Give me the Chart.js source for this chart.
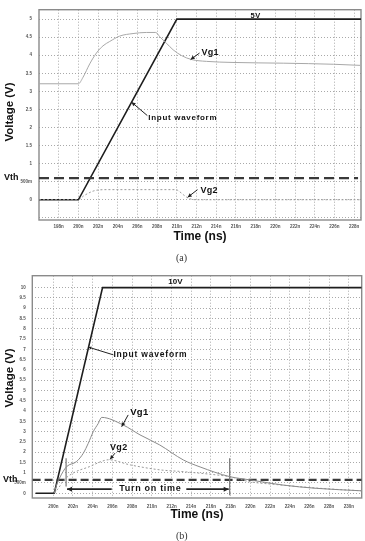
<!DOCTYPE html>
<html><head><meta charset="utf-8">
<script src="https://cdn.jsdelivr.net/npm/chart.js@4.4.0/dist/chart.umd.min.js"></script>
<style>
html,body{margin:0;padding:0;background:#fff;width:365px;height:541px;overflow:hidden;}
#wa{position:absolute;left:0;top:0;width:365px;height:262px;}
#wb{position:absolute;left:0;top:262px;width:365px;height:279px;}
.cap{position:absolute;font-family:"Liberation Serif",serif;font-size:10px;line-height:12px;color:#333;}
</style></head><body>
<div id="wa"><canvas id="ca" width="365" height="262"></canvas></div>
<div id="wb"><canvas id="cb" width="365" height="279"></canvas></div>
<div class="cap" style="left:176px;top:252px">(a)</div>
<div class="cap" style="left:176px;top:530px">(b)</div>
<script>
// ---------- Chart (a) data ----------
const xTicksA = [198,200,202,204,206,208,210,212,214,216,218,220,222,224,226,228];
const xLabelsA = ['198n','200n','202n','204n','206n','208n','210n','212n','214n','216n','218n','220n','222n','224n','226n','228n'];
const yTicksA = [-0.5,0,0.5,1,1.5,2,2.5,3,3.5,4,4.5,5];
const yLabelsA = ['','0','500m','1','1.5','2','2.5','3','3.5','4','4.5','5'];

const inputTimeA = [196, 200, 210, 228.7];
const inputValA  = [0, 0, 5, 5];

const vg1TimeA = [196, 200, 200.47, 201.15, 201.83, 202.5, 203.18, 204.2, 205.55, 206.9, 207.86, 208.27, 208.95, 209.62, 210.48, 211.5, 213.0, 215.7, 220.8, 225.9, 228.6];
const vg1ValA  = [3.21, 3.21, 3.39, 3.76, 4.06, 4.26, 4.38, 4.53, 4.60, 4.63, 4.63, 4.51, 4.33, 4.15, 3.99, 3.88, 3.83, 3.80, 3.78, 3.75, 3.72];

const vg2TimeA = [196, 200, 200.5, 201, 201.5, 202, 203, 209.9, 210.3, 210.7, 211.2, 212, 228.6];
const vg2ValA  = [0, 0, 0.10, 0.18, 0.24, 0.27, 0.28, 0.28, 0.22, 0.13, 0.04, 0, 0];

const vthA = 0.6;

// ---------- Chart (b) data ----------
const xTicksB = [200,202,204,206,208,210,212,214,216,218,220,222,224,226,228,230];
const xLabelsB = ['200n','202n','204n','206n','208n','210n','212n','214n','216n','218n','220n','222n','224n','226n','228n','230n'];
const yTicksB = [0,0.5,1,1.5,2,2.5,3,3.5,4,4.5,5,5.5,6,6.5,7,7.5,8,8.5,9,9.5,10];
const yLabelsB = ['0','500m','1','1.5','2','2.5','3','3.5','4','4.5','5','5.5','6','6.5','7','7.5','8','8.5','9','9.5','10'];

const inputTimeB = [198.2, 200.1, 205.0, 231.3];
const inputValB  = [0, 0, 10, 10];

const vg1TimeB = [200.1, 200.3, 200.6, 201.0, 201.36, 202.38, 203.05, 203.55, 204.06, 204.57, 204.91, 207.1, 208.8, 210.8, 213.2, 214.9, 217.9, 219.97, 223.3, 226.7, 231.3];
const vg1ValB  = [0, 0.35, 0.7, 1.06, 1.3, 1.55, 1.95, 2.43, 3.0, 3.4, 3.69, 3.32, 2.84, 2.35, 1.62, 1.28, 0.81, 0.65, 0.40, 0.24, 0.12];

const vg2TimeB = [200.1, 200.6, 201.0, 202.0, 203.7, 204.9, 205.6, 207.8, 210.8, 213.2, 216.6, 217.9, 219.97, 222.5, 225.0, 228.0, 231.3];
const vg2ValB  = [0, 0.3, 0.6, 0.98, 1.3, 1.55, 1.63, 1.38, 1.14, 1.05, 0.89, 0.81, 0.56, 0.43, 0.32, 0.21, 0.12];

const vthB = 0.65;
const markerTimesB = [201.3, 217.9];
const markerTopB = [1.7, 1.7];
const markerBottomB = [0.33, -0.1];

// ---------- helpers ----------
const pts = (t, v) => t.map((x, i) => ({x, y: v[i]}));
const FONT = '"Liberation Sans", Arial, sans-serif';

const annotPlugin = {
  id: 'annot',
  beforeDatasetsDraw(chart) {
    const {ctx, chartArea: a} = chart;
    ctx.save();
    ctx.strokeStyle = '#8a8a8a';
    ctx.lineWidth = 1.4;
    ctx.strokeRect(a.left, a.top, a.right - a.left, a.bottom - a.top);
    ctx.restore();
  },
  afterDatasetsDraw(chart, args, opts) {
    const {ctx, scales: {x, y}} = chart;
    ctx.save();
    (opts.arrows || []).forEach(ar => {
      const x1 = x.getPixelForValue(ar.from[0]), y1 = y.getPixelForValue(ar.from[1]);
      const x2 = x.getPixelForValue(ar.to[0]), y2 = y.getPixelForValue(ar.to[1]);
      ctx.strokeStyle = '#222'; ctx.fillStyle = '#222';
      ctx.lineWidth = ar.w || 1;
      ctx.beginPath(); ctx.moveTo(x1, y1); ctx.lineTo(x2, y2); ctx.stroke();
      const ang = Math.atan2(y2 - y1, x2 - x1);
      const L = ar.head || 4, W = (ar.headW || 2);
      ctx.beginPath();
      ctx.moveTo(x2, y2);
      ctx.lineTo(x2 - L * Math.cos(ang) + W * Math.sin(ang), y2 - L * Math.sin(ang) - W * Math.cos(ang));
      ctx.lineTo(x2 - L * Math.cos(ang) - W * Math.sin(ang), y2 - L * Math.sin(ang) + W * Math.cos(ang));
      ctx.closePath(); ctx.fill();
    });
    (opts.texts || []).forEach(t => {
      ctx.font = `bold ${t.size}px ${FONT}`;
      ctx.letterSpacing = (t.ls || 0) + 'px';
      ctx.fillStyle = '#111';
      ctx.textAlign = t.align || 'left';
      ctx.textBaseline = 'middle';
      const px = t.px !== undefined ? t.px : x.getPixelForValue(t.x);
      ctx.fillText(t.text, px, y.getPixelForValue(t.y));
    });
    ctx.letterSpacing = '0px';
    // vertical axis title
    if (opts.yTitle) {
      ctx.translate(opts.yTitle.px, opts.yTitle.py);
      ctx.rotate(-Math.PI / 2);
      ctx.font = `bold 11.5px ${FONT}`;
      ctx.textAlign = 'center';
      ctx.textBaseline = 'middle';
      ctx.fillStyle = '#111';
      ctx.fillText(opts.yTitle.text, 0, 0);
    }
    ctx.restore();
  }
};

function scalesFor(xmin, xmax, xt, xl, ymin, ymax, yt, yl, yW, xPad, yPad) {
  return {
    x: {
      type: 'linear', min: xmin, max: xmax,
      afterBuildTicks: s => { s.ticks = xt.map(v => ({value: v})); },
      afterFit: s => { s.height = 24; },
      ticks: { callback: (v, i) => xl[i], font: {family: FONT, size: 4.5, weight: 'bold'}, color: '#555', padding: xPad, maxRotation: 0, autoSkip: false },
      grid: { color: '#939393', lineWidth: 0.8, drawTicks: false },
      border: { display: false, dash: [1, 2] },
      title: { display: true, text: 'Time (ns)', color: '#111', font: {family: FONT, size: 12, weight: 'bold'}, padding: {top: 0, bottom: 0} }
    },
    y: {
      type: 'linear', min: ymin, max: ymax,
      afterBuildTicks: s => { s.ticks = yt.map(v => ({value: v})); },
      afterFit: s => { s.width = yW; },
      ticks: { callback: (v, i) => yl[i], font: {family: FONT, size: 4.5, weight: 'bold'}, color: '#555', padding: yPad, autoSkip: false },
      grid: { color: '#939393', lineWidth: 0.8, drawTicks: false },
      border: { display: false, dash: [1, 2] },
      title: { display: false }
    }
  };
}

// ---------- Chart (a) ----------
new Chart(document.getElementById('ca'), {
  type: 'line',
  data: {
    datasets: [
      { label: 'Vg1', data: pts(vg1TimeA, vg1ValA), borderColor: '#a8a8a8', borderWidth: 1, pointRadius: 0, cubicInterpolationMode: 'monotone' },
      { label: 'Vg2', data: pts(vg2TimeA, vg2ValA), borderColor: '#9a9a9a', borderWidth: 1, borderDash: [2, 2], pointRadius: 0, cubicInterpolationMode: 'monotone' },
      { label: 'Vth', data: pts([196, 228.4], [vthA, vthA]), borderColor: '#3a3a3a', borderWidth: 2.4, borderDash: [10, 5], pointRadius: 0 },
      { label: 'Input waveform', data: pts(inputTimeA, inputValA), borderColor: '#1e1e1e', borderWidth: 1.6, pointRadius: 0 }
    ]
  },
  options: {
    responsive: false, animation: false, events: [],
    layout: { padding: {left: 0, right: 4, top: 9, bottom: 18} },
    plugins: {
      legend: {display: false}, tooltip: {enabled: false},
      annot: {
        yTitle: {text: 'Voltage (V)', px: 10, py: 112},
        texts: [
          {text: '5V', x: 218.0, y: 5.1, size: 7.5, ls: 0.5, align: 'center'},
          {text: 'Vg1', x: 212.5, y: 4.08, size: 9, ls: 0.3},
          {text: 'Input waveform', x: 207.1, y: 2.28, size: 8, ls: 0.7},
          {text: 'Vg2', x: 212.4, y: 0.25, size: 9, ls: 0.3},
          {text: 'Vth', px: 4, y: 0.62, size: 9}
        ],
        arrows: [
          {from: [212.3, 4.06], to: [211.4, 3.88]},
          {from: [207.0, 2.33], to: [205.4, 2.70]},
          {from: [212.1, 0.28], to: [211.1, 0.07]}
        ]
      }
    },
    scales: scalesFor(196, 228.7, xTicksA, xLabelsA, -0.56, 5.26, yTicksA, yLabelsA, 39, 4, 7)
  },
  plugins: [annotPlugin]
});

// ---------- Chart (b) ----------
const markerSets = markerTimesB.map((t, i) => ({
  label: 'marker' + i, data: pts([t, t], [markerTopB[i], markerBottomB[i]]),
  borderColor: '#777', borderWidth: 1.2, pointRadius: 0
}));

new Chart(document.getElementById('cb'), {
  type: 'line',
  data: {
    datasets: [
      { label: 'Vg1', data: pts(vg1TimeB, vg1ValB), borderColor: '#8a8a8a', borderWidth: 1, pointRadius: 0, cubicInterpolationMode: 'monotone' },
      { label: 'Vg2', data: pts(vg2TimeB, vg2ValB), borderColor: '#9a9a9a', borderWidth: 1, borderDash: [2, 2], pointRadius: 0, cubicInterpolationMode: 'monotone' },
      ...markerSets,
      { label: 'Vth', data: pts([197.9, 231.3], [vthB, vthB]), borderColor: '#3a3a3a', borderWidth: 2.2, borderDash: [8, 4], pointRadius: 0 },
      { label: 'Input waveform', data: pts(inputTimeB, inputValB), borderColor: '#1e1e1e', borderWidth: 1.6, pointRadius: 0 }
    ]
  },
  options: {
    responsive: false, animation: false, events: [],
    layout: { padding: {left: 0, right: 3.3, top: 13.7, bottom: 19} },
    plugins: {
      legend: {display: false}, tooltip: {enabled: false},
      annot: {
        yTitle: {text: 'Voltage (V)', px: 10, py: 116},
        texts: [
          {text: '10V', x: 212.4, y: 10.26, size: 8, align: 'center'},
          {text: 'Input waveform', x: 206.1, y: 6.76, size: 8.5, ls: 0.8},
          {text: 'Vg1', x: 207.8, y: 3.92, size: 9.5, ls: 0.3},
          {text: 'Vg2', x: 205.76, y: 2.24, size: 9, ls: 0.3},
          {text: 'Turn on time', x: 209.85, y: 0.24, size: 9, ls: 0.7, align: 'center'},
          {text: 'Vth', px: 3, y: 0.67, size: 9}
        ],
        arrows: [
          {from: [206.1, 6.73], to: [203.6, 7.1], head: 2.5, headW: 1.5},
          {from: [207.6, 3.81], to: [206.94, 3.24]},
          {from: [206.26, 1.95], to: [205.76, 1.65]},
          {from: [205.93, 0.2], to: [201.4, 0.2], w: 1.6, head: 5, headW: 2.5},
          {from: [213.5, 0.2], to: [217.8, 0.2], w: 1.6, head: 5, headW: 2.5}
        ]
      }
    },
    scales: scalesFor(197.87, 231.3, xTicksB, xLabelsB, -0.23, 10.58, yTicksB, yLabelsB, 32.3, 6, 6.5)
  },
  plugins: [annotPlugin]
});
</script>
</body></html>
